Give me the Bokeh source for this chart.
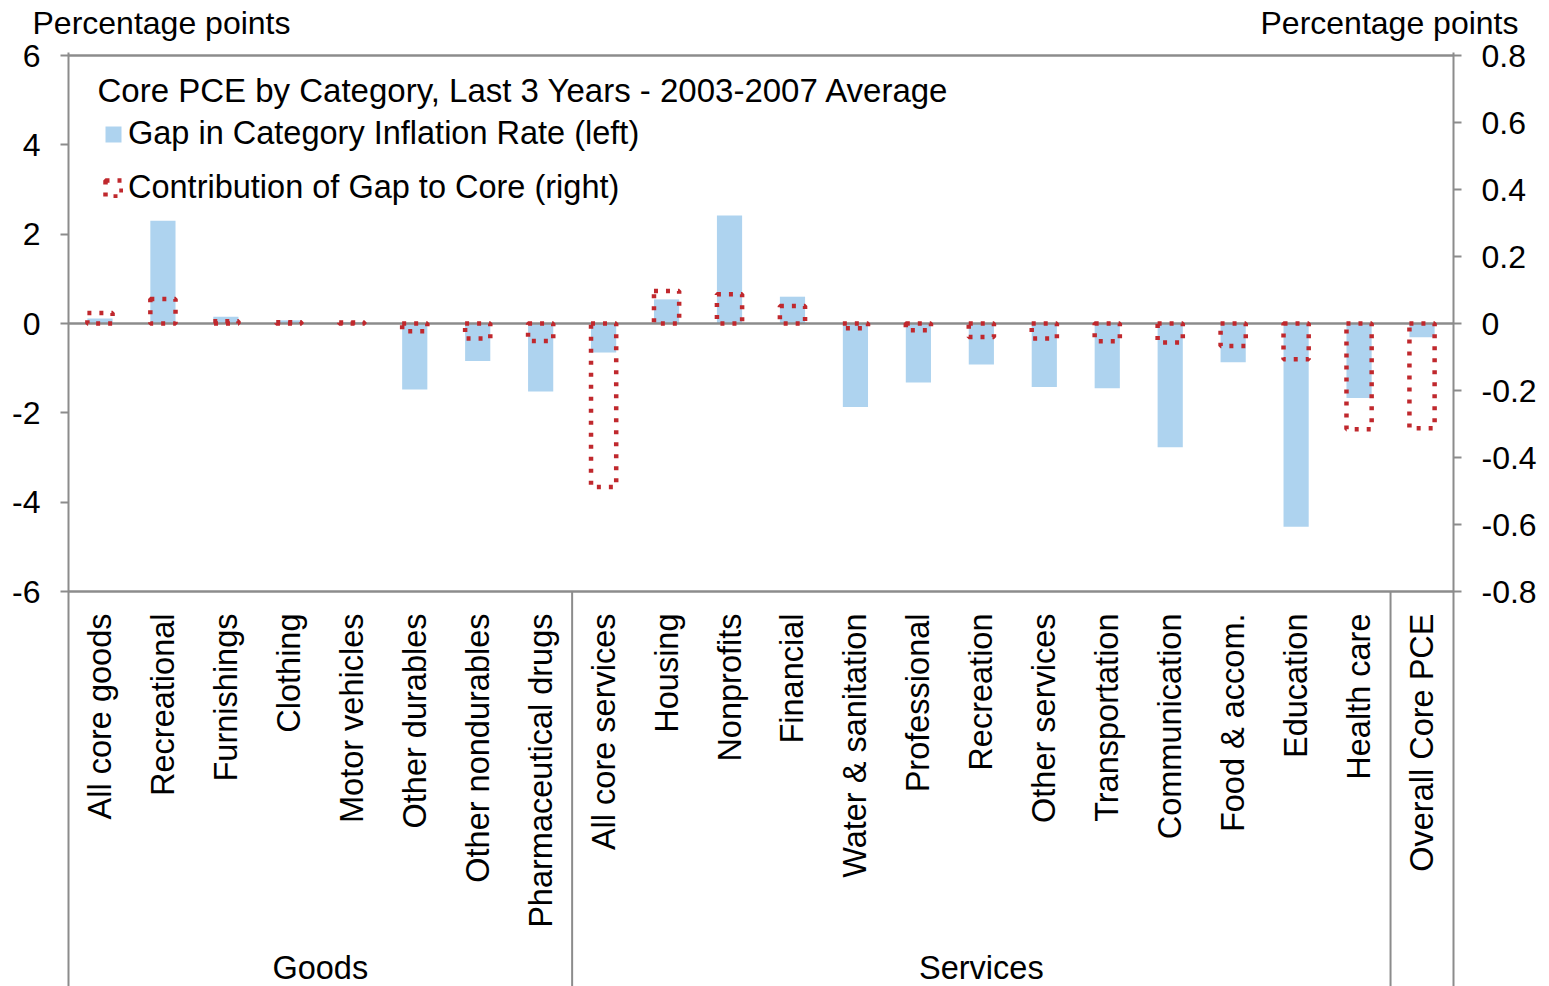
import math
from bokeh.plotting import figure
from bokeh.models import (Range1d, LinearAxis, FixedTicker, NumeralTickFormatter,
                          Label, Legend, LegendItem, ColumnDataSource)
from bokeh.core.properties import value
from bokeh.embed import file_html
from bokeh.resources import INLINE

# ---------------- data ----------------
categories = ["All core goods", "Recreational", "Furnishings", "Clothing", "Motor vehicles",
              "Other durables", "Other nondurables", "Pharmaceutical drugs",
              "All core services", "Housing", "Nonprofits", "Financial",
              "Water & sanitation", "Professional", "Recreation", "Other services",
              "Transportation", "Communication", "Food & accom.", "Education",
              "Health care", "Overall Core PCE"]
group_names = ["Goods", "Services", ""]
group_sizes = [8, 13, 1]
gap_left = [0.11, 2.30, 0.15, 0.07, 0.03, -1.48, -0.84, -1.52,
            -0.65, 0.54, 2.42, 0.60, -1.87, -1.32, -0.92, -1.42,
            -1.45, -2.77, -0.87, -4.55, -1.67, -0.31]
contrib_right = [0.031, 0.073, 0.007, 0.004, 0.003, -0.023, -0.045, -0.052,
                 -0.488, 0.097, 0.087, 0.052, -0.014, -0.020, -0.040, -0.045,
                 -0.053, -0.057, -0.067, -0.107, -0.316, -0.313]
left_ticks = [-6, -4, -2, 0, 2, 4, 6]
right_ticks = [-0.8, -0.6, -0.4, -0.2, 0, 0.2, 0.4, 0.6, 0.8]
title_text = "Core PCE by Category, Last 3 Years - 2003-2007 Average"
series_names = ["Gap in Category Inflation Rate (left)", "Contribution of Gap to Core (right)"]
axis_title = "Percentage points"

# ---------------- geometry ----------------
W, H = 1549, 986
FL, FR, FT, FB = 68, 1453, 52, 986
Y6_PX, YM6_PX = 55, 591
n = len(categories)
ppx = (FR - FL) / n
ppy = (YM6_PX - Y6_PX) / (left_ticks[-1] - left_ticks[0])
zero_px = (Y6_PX + YM6_PX) / 2
ratio = right_ticks[-1] / left_ticks[-1]


def dx(px):
    return (px - FL) / ppx


def dy(py):
    return (zero_px - py) / ppy


FONT = "Liberation Sans"
FS = "32.5px"
GRAY = "#8c8c8c"
BLUE = "#aed3ef"
RED = "#c0282d"

y0, y1 = dy(FB), dy(FT)
p = figure(width=W, height=H, x_range=Range1d(0, n), y_range=Range1d(y0, y1),
           output_backend="svg", toolbar_location=None, title=None,
           min_border_left=FL, min_border_right=W - FR, min_border_top=FT,
           min_border_bottom=0, x_axis_location=None, outline_line_color=None,
           background_fill_color="white", border_fill_color="white")
p.extra_y_ranges = {"right": Range1d(y0 * ratio, y1 * ratio)}
p.grid.grid_line_color = None

# left axis
ya = p.yaxis[0]
ya.ticker = FixedTicker(ticks=left_ticks)
ya.formatter = NumeralTickFormatter(format="0")
ra = LinearAxis(y_range_name="right", ticker=FixedTicker(ticks=right_ticks),
                formatter=NumeralTickFormatter(format="0.[0]"))
p.add_layout(ra, "right")
for ax in (ya, ra):
    ax.axis_line_color = GRAY
    ax.axis_line_width = 2
    ax.major_tick_line_color = GRAY
    ax.major_tick_line_width = 2
    ax.major_tick_out = 8
    ax.major_tick_in = 0
    ax.minor_tick_line_color = None
    ax.major_label_standoff = 20
    ax.major_label_text_font = FONT
    ax.major_label_text_font_size = "32px"
    ax.major_label_text_color = "black"

# axis titles ("Percentage points") above each value axis, as labels of a top axis
title_pos = [dx(161), dx(1389)]
top = LinearAxis(ticker=FixedTicker(ticks=title_pos),
                 major_label_overrides={t: axis_title for t in title_pos})
top.axis_line_color = None
top.major_tick_line_color = None
top.minor_tick_line_color = None
top.major_tick_out = 0
top.major_tick_in = 0
top.major_label_standoff = 12
top.major_label_text_font = FONT
top.major_label_text_font_size = "32px"
top.major_label_text_color = "black"
p.add_layout(top, "above")

xs = [i + 0.5 for i in range(n)]
src = ColumnDataSource(dict(x=xs, gap=gap_left, contrib=contrib_right, cat=categories))

bars = p.vbar(x="x", top="gap", bottom=0, width=0.4, source=src,
              fill_color=BLUE, line_color=None)
# zero line, x-axis line, top border
p.segment(x0=[0, 0, 0], y0=[0, left_ticks[0], left_ticks[-1]],
          x1=[n, n, n], y1=[0, left_ticks[0], left_ticks[-1]],
          line_color=GRAY, line_width=2.5)
dots = p.vbar(x="x", top="contrib", bottom=0, width=0.4, source=src,
              y_range_name="right", fill_color=None, line_color=RED,
              line_width=4.5, line_dash="4 8")

# group separators below the axis
bounds = []
acc = 0
for s in group_sizes[:-1]:
    acc += s
    bounds.append(acc)
p.segment(x0=bounds, x1=bounds, y0=[left_ticks[0]] * len(bounds), y1=[y0] * len(bounds),
          line_color=GRAY, line_width=2)

# category labels
p.text(x="x", y=dy(YM6_PX + 22), text="cat", source=src, angle=math.pi / 2,
       text_align="right", text_baseline="middle", text_font=value(FONT),
       text_font_size=value(FS), text_color="black")

# group labels
gx = []
acc = 0
for s in group_sizes:
    gx.append(acc + s / 2)
    acc += s
p.text(x=gx, y=[dy(967)] * len(gx), text=group_names, text_align="center",
       text_baseline="middle", text_font=value(FONT), text_font_size=value(FS),
       text_color="black")

# chart title inside plot
p.add_layout(Label(x=dx(97), y=dy(90), text=title_text, text_align="left",
                   text_baseline="middle", text_font=FONT, text_font_size="33px",
                   text_color="black"))

legend = Legend(items=[LegendItem(label=series_names[0], renderers=[bars]),
                       LegendItem(label=series_names[1], renderers=[dots])],
                location=(35, FB - 206), orientation="vertical", padding=0, margin=0,
                spacing=17, glyph_width=20, glyph_height=20, label_standoff=5,
                label_height=36, label_text_font=FONT, label_text_font_size=FS,
                label_text_color="black",
                border_line_color=None, background_fill_alpha=0)
p.add_layout(legend)

open("out.html", "w").write(file_html(p, INLINE))
